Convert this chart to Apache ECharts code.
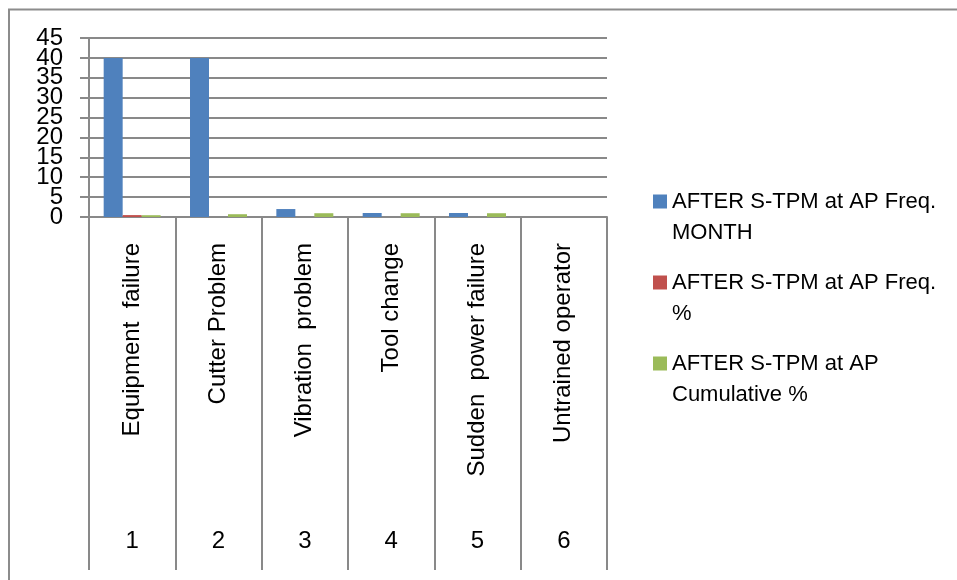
<!DOCTYPE html>
<html>
<head>
<meta charset="utf-8">
<style>
  html, body { margin: 0; padding: 0; background: #ffffff; }
  #chart { width: 957px; height: 580px; }
</style>
<script src="https://cdn.jsdelivr.net/npm/echarts@6/dist/echarts.min.js"></script>
</head>
<body>
<div id="chart"></div>
<script>
// Downtime causes after S-TPM at AP
const causes = ['Equipment  failure', 'Cutter Problem', 'Vibration  problem', 'Tool change', 'Sudden  power failure', 'Untrained operator'];
const causeNumbers = ['1', '2', '3', '4', '5', '6'];
const freqMonth = [40, 40, 2, 1, 1, 0];
const freqPercent = [0.48, 0, 0, 0, 0, 0];
const cumulativePercent = [0.45, 0.7, 0.95, 0.95, 0.95, 0];
const yTicks = { min: 0, max: 45, step: 5 };

const seriesNames = [
  'AFTER S-TPM at AP Freq.\nMONTH',
  'AFTER S-TPM at AP Freq.\n%',
  'AFTER S-TPM at AP\nCumulative %'
];

const lineGray = '#898989';
const textFont = '"Liberation Sans", Arial, sans-serif';

const yLabelStyle = {
  margin: 26,
  fontFamily: textFont,
  fontSize: 24,
  lineHeight: 18,
  color: '#000000'
};
const yTickStyle = { show: true, length: 9, lineStyle: { color: lineGray, width: 2 } };

const chart = echarts.init(document.getElementById('chart'));
chart.setOption({
  animation: false,
  color: ['#4F81BD', '#C0504D', '#9BBB59'],
  graphic: [{
    type: 'rect',
    shape: { x: 9, y: 9.5, width: 1200, height: 800 },
    style: { fill: 'none', stroke: '#8c8c8c', lineWidth: 2 },
    silent: true
  }],
  grid: { left: 89, right: 350, top: 38, bottom: 363, containLabel: false },
  legend: {
    orient: 'vertical',
    left: 653,
    top: 155,
    padding: 0,
    itemGap: -12,
    itemWidth: 14,
    itemHeight: 14,
    icon: 'rect',
    data: seriesNames,
    // a blank leading line keeps each marker level with the first text line
    formatter: function (name) { return '\n' + name; },
    textStyle: {
      fontFamily: textFont,
      fontSize: 22,
      color: '#000000',
      lineHeight: 31
    }
  },
  xAxis: [{
    type: 'category',
    data: causes,
    axisLine: { show: true, lineStyle: { color: lineGray, width: 2 } },
    axisTick: { show: true, interval: 0, length: 353, lineStyle: { color: lineGray, width: 2 } },
    axisLabel: {
      interval: 0,
      rotate: 90,
      margin: 26,
      fontFamily: textFont,
      fontSize: 24,
      color: '#000000'
    },
    splitLine: { show: false }
  }, {
    type: 'category',
    position: 'bottom',
    data: causeNumbers,
    axisLine: { show: false },
    axisTick: { show: false },
    axisLabel: {
      interval: 0,
      margin: 312,
      fontFamily: textFont,
      fontSize: 24,
      color: '#000000'
    }
  }],
  yAxis: [{
    // inner ticks and labels (5 … 40), axis line and grid lines
    type: 'value',
    min: yTicks.min,
    max: yTicks.max,
    interval: yTicks.step,
    axisLine: { show: true, lineStyle: { color: lineGray, width: 2 } },
    axisTick: yTickStyle,
    axisLabel: Object.assign({ showMinLabel: false, showMaxLabel: false }, yLabelStyle),
    splitLine: { show: true, lineStyle: { color: lineGray, width: 2 } }
  }, {
    // end ticks and labels (0 and 45), which sit tightly against their neighbours
    type: 'value',
    position: 'left',
    min: yTicks.min,
    max: yTicks.max,
    interval: yTicks.step,
    axisLine: { show: false },
    axisTick: yTickStyle,
    axisLabel: Object.assign({
      showMinLabel: true,
      showMaxLabel: true,
      formatter: function (v) { return (v === yTicks.min || v === yTicks.max) ? String(v) : ''; }
    }, yLabelStyle),
    splitLine: { show: false }
  }],
  series: [{
    name: seriesNames[0],
    type: 'bar',
    data: freqMonth,
    barGap: '0%',
    barCategoryGap: '34%'
  }, {
    name: seriesNames[1],
    type: 'bar',
    data: freqPercent,
    barGap: '0%',
    barCategoryGap: '34%'
  }, {
    name: seriesNames[2],
    type: 'bar',
    data: cumulativePercent,
    barGap: '0%',
    barCategoryGap: '34%'
  }]
});
</script>
</body>
</html>
